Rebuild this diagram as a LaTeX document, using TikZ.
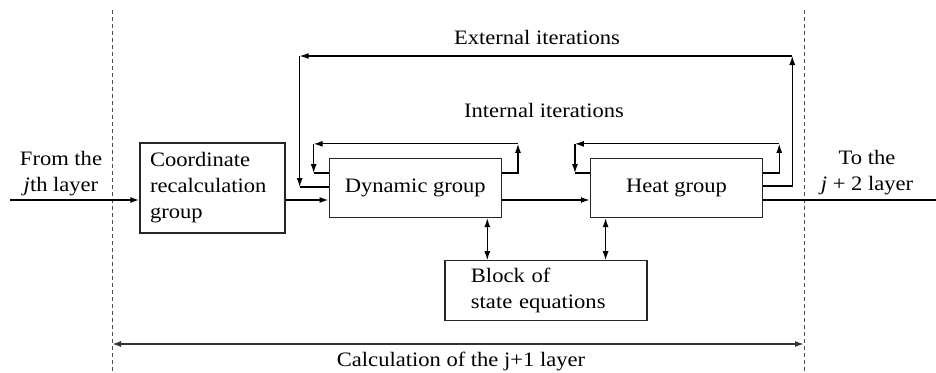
\documentclass[tikz,border=0pt]{standalone}
\usepackage{fontspec}
\setmainfont{Liberation Serif}[FakeStretch=1.1]
\usetikzlibrary{arrows.meta,positioning,calc}

\begin{document}
\begin{tikzpicture}[x=1pt,y=-1pt,->,>={Latex[length=9pt,width=6pt]},line width=1.2pt,
    font=\fontsize{20.5}{26}\selectfont]

    \tikzstyle{block}=[draw=black!85,-,line width=1.3pt,inner sep=0pt]
    \tikzstyle{guide}=[-,draw=black!70,line width=0.9pt,dash pattern=on 4pt off 3pt]
    \tikzstyle{mainline}=[line width=1.7pt]

    \useasboundingbox (0,0) rectangle (936,372);

    \node[block, text width=125pt, inner xsep=10pt, minimum height=90pt, align=left] (coord) at (212.5,188)
        {Coordinate\\recalculation\\group};
    \node[block, minimum width=172pt, minimum height=59pt] (dyn)  [right=43pt of coord] {Dynamic group};
    \node[block, minimum width=172pt, minimum height=59pt] (heat) [right=88pt of dyn]   {Heat group};
    \coordinate (mid) at ($(dyn.south)!0.5!(heat.south)$);
    \node[block, text width=150pt, inner xsep=26pt, minimum height=60pt, align=left] (blk) [below=42pt of mid]
        {Block of\\state equations};

    % labels
    \node[align=center] (from) at (61,174) {From the\\\textit{j}th layer};
    \node[align=center] (to)   at (867,173) {To the\\\textit{j} + 2 layer};
    \node[anchor=base]  (ext)  at (537,44)  {External iterations};
    \node[anchor=base]  (int)  at (544,117) {Internal iterations};
    \node[anchor=base]  (calc) at (461,366) {Calculation of the j+1 layer};

    % layer bounds
    \coordinate (lt) at (112,10);  \coordinate (lb) at (112,372);
    \coordinate (rt) at (804,10);  \coordinate (rb) at (804,372);
    \draw[guide] (lt) -- (lb);
    \draw[guide] (rt) -- (rb);
    \draw[<->, draw=black!80, line width=1.6pt] (lb |- 0,344) -- (rb |- 0,344);

    % main flow
    \coordinate (in)  at (10,200);
    \coordinate (out) at (936,200);
    \draw[mainline] (in) -- (coord.west |- in);
    \draw[mainline] (coord.east |- in) -- (dyn.west |- in);
    \draw[mainline] (dyn.east |- in) -- (heat.west |- in);
    \draw[mainline,-] (heat.east |- in) -- (out);

    % internal iterations
    \foreach \g in {dyn,heat} {
      \draw ([yshift=15pt]\g.east) -| ([xshift=16pt,yshift=14pt]\g.north east);
      \draw ([xshift=16pt,yshift=14pt]\g.north east) -- ([xshift=-15pt,yshift=14pt]\g.north west);
      \draw ([xshift=-15pt,yshift=14pt]\g.north west) -- ([xshift=-15pt,yshift=15pt]\g.west);
      \draw[-] ([xshift=-15pt,yshift=15pt]\g.west) -- ([yshift=15pt]\g.west);
    }

    % external iterations
    \coordinate (extR) at ([xshift=29pt]heat.east |- 0,56);
    \coordinate (extL) at ([xshift=-29pt]dyn.west |- 0,56);
    \draw ([yshift=2pt]heat.east) -| (extR);
    \draw (extR) -- (extL);
    \draw (extL) -- ([xshift=-29pt,yshift=1pt]dyn.west);
    \draw[-] ([xshift=-29pt,yshift=1pt]dyn.west) -- ([yshift=1pt]dyn.west);

    % state equations
    \draw[<->] ([xshift=72pt]dyn.south) -- ([xshift=72pt]dyn.south |- blk.north);
    \draw[<->] ([xshift=-71pt]heat.south) -- ([xshift=-71pt]heat.south |- blk.north);
\end{tikzpicture}
\end{document}
